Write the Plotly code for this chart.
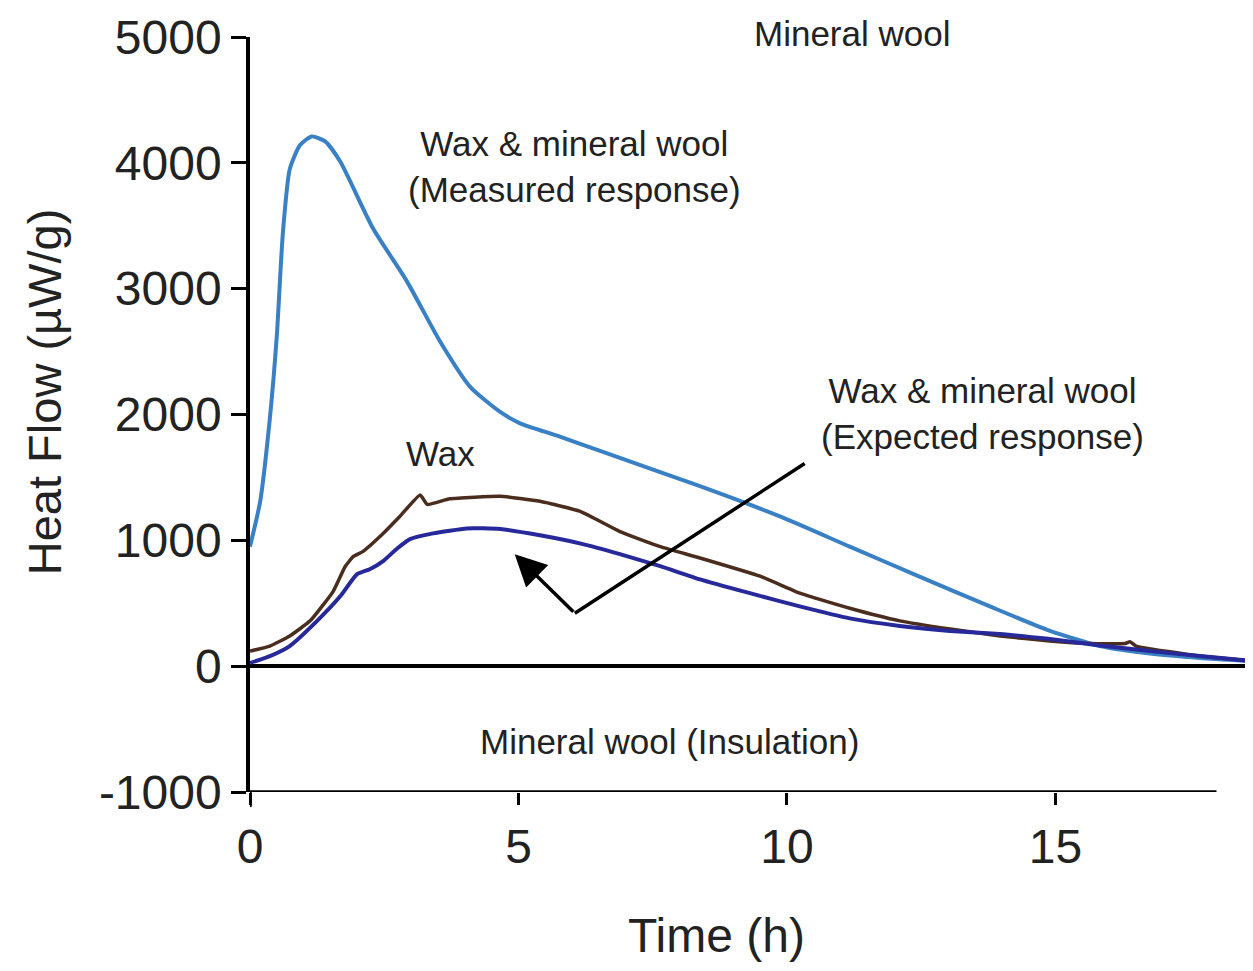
import plotly.graph_objects as go

# ---- data ----
time_measured = [0, 0.19, 0.37, 0.50, 0.61, 0.74, 0.93, 1.15, 1.40, 1.68, 2.29, 2.92, 3.54, 4.10,
                 4.66, 5.03, 5.77, 6.52, 8.38, 9.87, 11.17, 12.48, 13.78, 14.9, 15.83, 16.76, 17.69, 18.68]
heat_measured = [950, 1310, 1970, 2630, 3430, 3950, 4140, 4210, 4170, 4010, 3480, 3060, 2580, 2220,
                 2020, 1930, 1825, 1710, 1430, 1190, 950, 710, 475, 280, 160, 100, 65, 40]

time_wax = [0, 0.37, 0.74, 1.12, 1.55, 1.77, 1.92, 2.10, 2.42, 2.79, 3.17, 3.30, 3.72, 4.66, 5.40,
            6.15, 6.89, 7.64, 8.38, 9.50, 10.24, 11.17, 12.10, 13.04, 13.97, 14.9, 15.64, 16.30,
            16.39, 16.50, 17.69, 18.68]
heat_wax = [120, 160, 240, 360, 595, 790, 870, 910, 1030, 1190, 1360, 1285, 1330, 1350, 1310,
            1230, 1070, 950, 860, 715, 580, 460, 360, 295, 240, 200, 180, 180, 195, 160, 80, 40]

time_expected = [0, 0.37, 0.74, 1.25, 1.68, 1.99, 2.23, 2.48, 2.74, 2.98, 3.41, 4.04, 4.66, 5.40,
                 6.20, 6.89, 7.64, 8.38, 9.31, 10.24, 11.17, 12.10, 13.04, 13.97, 14.9, 15.83,
                 16.76, 17.69, 18.68]
heat_expected = [25, 80, 160, 360, 555, 730, 770, 835, 935, 1010, 1055, 1095, 1090, 1040,
                 970, 890, 795, 690, 580, 475, 380, 320, 280, 255, 215, 165, 120, 80, 40]

x_ticks = [0, 5, 10, 15]
x_tick_labels = ["0", "5", "10", "15"]
y_ticks = [-1000, 0, 1000, 2000, 3000, 4000, 5000]
y_tick_labels = ["-1000", "0", "1000", "2000", "3000", "4000", "5000"]

# pointer line (from label to the bend) and arrow tip
pointer_x = [10.33, 6.05]
pointer_y = [1611, 420]
arrow_tip = (4.93, 890)

# text labels inside the plot (data coordinates)
labels = [
    ("Wax & mineral wool<br>(Measured response)", 6.05, 3967),
    ("Wax & mineral wool<br>(Expected response)", 13.65, 2011),
    ("Wax", 3.54, 1693),
    ("Mineral wool (Insulation)", 7.82, -596),
]
# label above the top of the plot (x in data, y in paper units)
top_label = ("Mineral wool", 11.21, 1.005)

FONT = "Liberation Sans, Arial, sans-serif"
TXT = "#222222"

fig = go.Figure()
fig.add_trace(go.Scatter(x=time_measured, y=heat_measured, mode="lines",
                         line=dict(color="#3a80c4", width=4, shape="spline", smoothing=0.6),
                         name="Measured"))
fig.add_trace(go.Scatter(x=time_wax, y=heat_wax, mode="lines",
                         line=dict(color="#4a2d1e", width=3.5, shape="spline", smoothing=0.4),
                         name="Wax"))
fig.add_trace(go.Scatter(x=time_expected, y=heat_expected, mode="lines",
                         line=dict(color="#27299a", width=4, shape="spline", smoothing=0.5),
                         name="Expected"))
fig.add_trace(go.Scatter(x=pointer_x, y=pointer_y, mode="lines",
                         line=dict(color="black", width=3.5), name="pointer"))

annotations = []
for text, x, y in labels:
    annotations.append(dict(x=x, y=y, xref="x", yref="y", text=text, showarrow=False,
                            font=dict(family=FONT, size=35, color=TXT),
                            xanchor="center", yanchor="middle", align="center"))
annotations.append(dict(x=top_label[1], y=top_label[2], xref="x", yref="paper",
                        text=top_label[0], showarrow=False,
                        font=dict(family=FONT, size=35, color=TXT),
                        xanchor="center", yanchor="middle"))
annotations.append(dict(x=arrow_tip[0], y=arrow_tip[1], xref="x", yref="y",
                        ax=pointer_x[1], ay=pointer_y[1], axref="x", ayref="y",
                        text="", showarrow=True, arrowhead=2, arrowsize=1.8,
                        arrowwidth=3.5, arrowcolor="black"))
annotations.append(dict(x=0.465, y=-0.19, xref="paper", yref="paper", text="Time (h)",
                        showarrow=False, font=dict(family=FONT, size=48, color=TXT),
                        xanchor="center", yanchor="middle"))
annotations.append(dict(x=-0.205, y=0.53, xref="paper", yref="paper", text="Heat Flow (µW/g)",
                        showarrow=False, textangle=-90,
                        font=dict(family=FONT, size=47, color=TXT),
                        xanchor="center", yanchor="middle"))

shapes = [
    # bottom axis line ending at 18 h
    dict(type="line", xref="x", yref="y", x0=-0.06, x1=18.0, y0=-1000, y1=-1000,
         line=dict(color="black", width=3.5)),
    # small extension of the y axis below the x axis
    dict(type="line", xref="x", yref="paper", x0=0, x1=0, y0=0, y1=-0.02,
         line=dict(color="black", width=3.5)),
]

fig.update_layout(
    width=1245, height=963,
    margin=dict(l=242, r=0, t=29, b=179, autoexpand=False),
    paper_bgcolor="white", plot_bgcolor="white",
    showlegend=False,
    font=dict(family=FONT, size=48, color=TXT),
    annotations=annotations, shapes=shapes,
    xaxis=dict(range=[0, 18.68], tickvals=x_ticks, ticktext=x_tick_labels, ticks="outside",
               ticklen=12, tickwidth=3, tickcolor="black", showline=False, showgrid=False,
               zeroline=False, automargin=False,
               tickfont=dict(family=FONT, size=48, color=TXT)),
    yaxis=dict(range=[-1000, 5000], tickvals=y_ticks, ticktext=y_tick_labels, ticks="outside",
               ticklen=15, tickwidth=3, tickcolor="black", showline=True, linecolor="black",
               linewidth=3.5, showgrid=False, zeroline=True, zerolinecolor="black",
               zerolinewidth=3.5, automargin=False,
               tickfont=dict(family=FONT, size=48, color=TXT)),
)

fig.write_html("out.html")
